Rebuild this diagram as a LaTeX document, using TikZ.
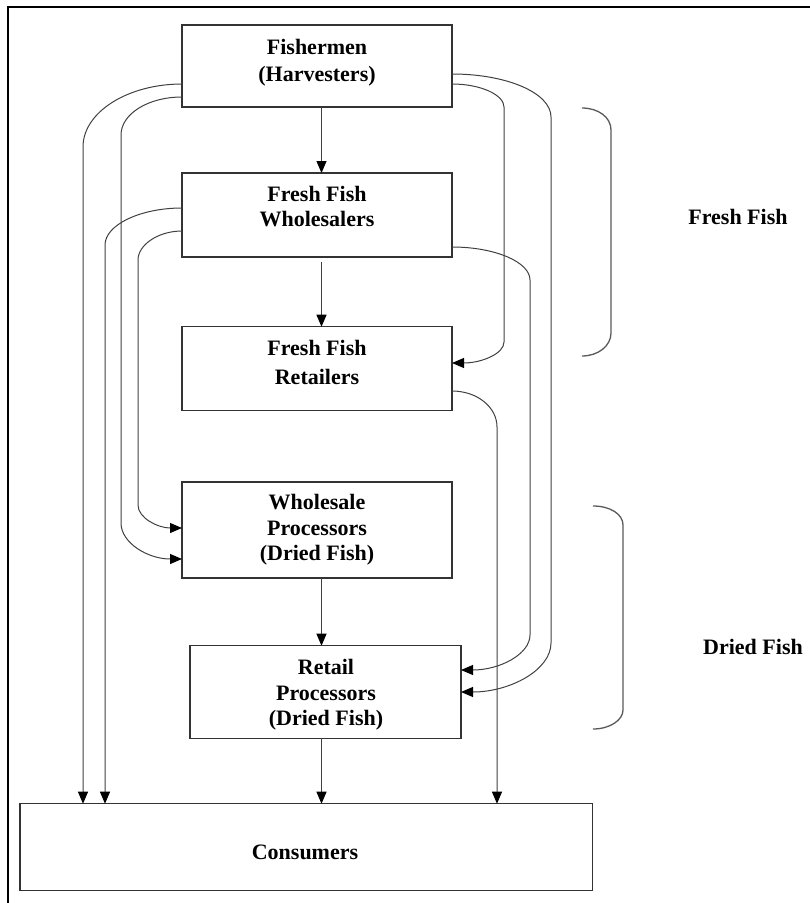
\documentclass[tikz,border=0pt]{standalone}
\usepackage{fontspec}
\setmainfont{Liberation Serif}
\usetikzlibrary{arrows.meta}
\begin{document}
\begin{tikzpicture}[x=1pt,y=-1pt,
  box/.style={draw=black!80,line width=1.2pt,rectangle,inner sep=0pt,outer sep=0pt},
  txt/.style={anchor=base,inner sep=0pt,font=\fontsize{22}{26}\selectfont\bfseries},
  conn/.style={draw=black!75,line width=1pt},
  arr/.style={conn,-{Triangle[length=12pt,width=10pt,color=black]}},
  brk/.style={draw=black!65,line width=1.3pt}]
\useasboundingbox (0,0) rectangle (810,903);
% frame
\draw[line width=2.2pt] (8,903) -- (8,7) -- (810,7);
% boxes
\node[box,minimum width=270pt,minimum height=82pt] (fish) at (317,66) {};
\node[box,minimum width=270pt,minimum height=84pt] (whole) at (317,215) {};
\node[box,minimum width=270pt,minimum height=84pt] (retail) at (317,368.7) {};
\node[box,minimum width=270pt,minimum height=96pt] (wproc) at (317,530) {};
\node[box,minimum width=271pt,minimum height=92.6pt] (rproc) at (325.5,692) {};
\node[box,minimum width=572.7pt,minimum height=87pt] (cons) at (306.3,847.2) {};
% texts
\node[txt] (t1a) at (317,54) {Fishermen};
\node[txt] (t1b) at (317,81) {(Harvesters)};
\node[txt] (t2a) at (317,201.7) {Fresh Fish};
\node[txt] (t2b) at (317,226.7) {Wholesalers};
\node[txt] (t3a) at (317,355) {Fresh Fish};
\node[txt] (t3b) at (317,384) {Retailers};
\node[txt] (t4a) at (317,509) {Wholesale};
\node[txt] (t4b) at (317,535) {Processors};
\node[txt] (t4c) at (317,560) {(Dried Fish)};
\node[txt] (t5a) at (326,674) {Retail};
\node[txt] (t5b) at (326,700) {Processors};
\node[txt] (t5c) at (326,725) {(Dried Fish)};
\node[txt] (t6) at (305,859) {Consumers};
\node[txt] (lf) at (738,224) {Fresh Fish};
\node[txt] (ld) at (753,654) {Dried Fish};
% vertical arrows
\draw[arr] (fish.south -| 321.5,0) -- (whole.north -| 321.5,0);
\draw[arr] (321.5,261.5) -- (retail.north -| 321.5,0);
\draw[arr] (wproc.south -| 321.5,0) -- (rproc.north -| 321.5,0);
\draw[arr] (rproc.south -| 321.5,0) -- (cons.north -| 321.5,0);
% left curves
\draw[arr] (fish.west |- 0,84) .. controls (128,84) and (83,112) .. (83,147) -- (cons.north -| 83,0);
\draw[arr] (fish.west |- 0,97) .. controls (148,97) and (121,114) .. (121,135) -- (121,523) .. controls (121,543) and (148,559) .. (wproc.west |- 0,559);
\draw[arr] (whole.west |- 0,208) .. controls (140,208) and (105,225) .. (105,245) -- (cons.north -| 105,0);
\draw[arr] (whole.west |- 0,231) .. controls (158,231) and (138,245) .. (138,260) -- (138,505) .. controls (138,518) and (158,528) .. (wproc.west |- 0,528);
% right curves
\draw[arr] (fish.east |- 0,74) .. controls (507,74) and (551,93) .. (551,117) -- (551,643) .. controls (551,670) and (510,692) .. (rproc.east |- 0,692);
\draw[arr] (fish.east |- 0,84) .. controls (481,84) and (504,95) .. (504,107) -- (504,342) .. controls (504,354) and (481,363) .. (retail.east |- 0,363);
\draw[arr] (whole.east |- 0,247) .. controls (495,247) and (530,262) .. (530,280) -- (530,635) .. controls (530,654) and (500,670) .. (rproc.east |- 0,670);
\draw[arr] (retail.east |- 0,391) .. controls (477,391) and (497,407) .. (497,427) -- (cons.north -| 497,0);
% brackets
\draw[brk] (582,108) .. controls (598,108) and (611,117) .. (611,130) -- (611,333) .. controls (611,346) and (598,356) .. (582,356);
\draw[brk] (593,506) .. controls (610,506) and (623,514) .. (623,525) -- (623,710) .. controls (623,720) and (610,729) .. (593,729);
\end{tikzpicture}
\end{document}
